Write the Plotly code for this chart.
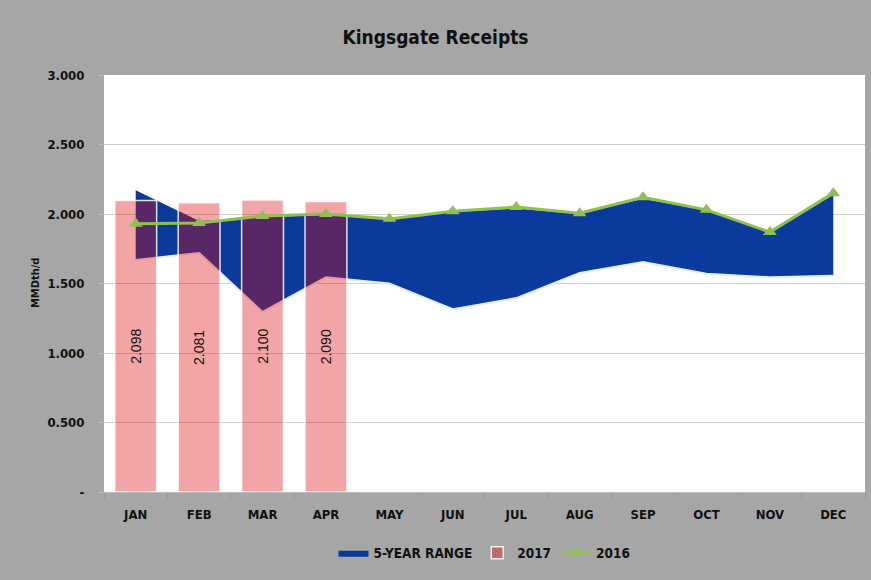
import plotly.graph_objects as go

months = ["JAN", "FEB", "MAR", "APR", "MAY", "JUN", "JUL", "AUG", "SEP", "OCT", "NOV", "DEC"]
range_low = [1.67, 1.72, 1.295, 1.545, 1.50, 1.315, 1.395, 1.575, 1.655, 1.57, 1.545, 1.555]
range_high = [2.17, 1.95, 1.975, 1.995, 1.96, 2.015, 2.04, 2.0, 2.11, 2.025, 1.865, 2.14]
months_2017 = ["JAN", "FEB", "MAR", "APR"]
vals_2017 = [2.098, 2.081, 2.100, 2.090]
vals_2016 = [1.93, 1.935, 1.985, 2.00, 1.965, 2.02, 2.05, 2.005, 2.12, 2.03, 1.87, 2.15]

ytick_vals = [0, 0.5, 1.0, 1.5, 2.0, 2.5, 3.0]
ytick_text = ["-", "0.500", "1.000", "1.500", "2.000", "2.500", "3.000"]

COND = "DejaVu Sans Condensed, Liberation Sans, sans-serif"
BLUE = "#0A3A9B"
GREEN = "#92C050"

fig = go.Figure()

# 5-year range area (base subplot)
fig.add_trace(go.Scatter(
    x=months, y=range_low, mode="lines",
    line=dict(color="#E4ECF8", width=2),
    showlegend=False, hoverinfo="skip",
))
fig.add_trace(go.Scatter(
    x=months, y=range_high, mode="lines",
    line=dict(color=BLUE, width=0),
    fill="tonexty", fillcolor=BLUE,
    name="5-YEAR RANGE",
))

# 2017 bars (overlay subplot, drawn above the area)
fig.add_trace(go.Bar(
    x=months_2017, y=vals_2017, name="2017",
    xaxis="x2", yaxis="y2",
    width=0.66,
    marker=dict(color="rgba(222,12,12,0.37)", line=dict(color="rgba(255,255,255,0.85)", width=1.5)),
    text=[f"{v:.3f}" for v in vals_2017],
    textposition="inside", insidetextanchor="middle", textangle=-90,
    textfont=dict(family="Liberation Sans, Arial, sans-serif", size=14, color="#111111"),
))

# 2016 line
fig.add_trace(go.Scatter(
    x=months, y=vals_2016, name="2016",
    xaxis="x2", yaxis="y2",
    mode="lines+markers",
    line=dict(color=GREEN, width=3),
    marker=dict(symbol="triangle-up", size=12, color=GREEN),
))

fig.update_layout(
    width=871, height=580,
    paper_bgcolor="#A6A6A6", plot_bgcolor="white",
    margin=dict(l=104, r=6, t=75, b=88),
    title=dict(text="Kingsgate Receipts", x=0.5, xanchor="center", y=0.935, yanchor="middle",
               font=dict(family=COND, size=19, color="#111111", weight="bold")),
    xaxis=dict(type="category", categoryorder="array", categoryarray=months,
               range=[-0.5, 11.5], showgrid=False,
               showline=True, linecolor="#BFBFBF", linewidth=1,
               ticks="outside", tickson="boundaries", ticklen=6, tickcolor="#999999",
               ticklabelstandoff=10,
               tickfont=dict(family=COND, size=13, color="#111111", weight="bold")),
    yaxis=dict(range=[0, 3], tickvals=ytick_vals, ticktext=ytick_text,
               showgrid=True, gridcolor="#CFCFCF", gridwidth=1, zeroline=False,
               ticks="outside", ticklen=4, tickcolor="#BFBFBF",
               ticklabelstandoff=12,
               tickfont=dict(family=COND, size=13, color="#111111", weight="bold")),
    xaxis2=dict(type="category", categoryorder="array", categoryarray=months,
                range=[-0.5, 11.5], overlaying="x", visible=False),
    yaxis2=dict(range=[0, 3], overlaying="y", visible=False),
    barmode="overlay",
    legend=dict(orientation="h", x=0.5, xanchor="center", y=-0.146, yanchor="middle",
                bgcolor="rgba(0,0,0,0)",
                font=dict(family=COND, size=13.5, color="#111111", weight="bold"),
                itemwidth=30, traceorder="normal"),
    annotations=[dict(text="MMDth/d", xref="paper", yref="paper",
                      x=-0.09, y=0.5, textangle=-90, showarrow=False,
                      xanchor="center", yanchor="middle",
                      font=dict(family=COND, size=11, color="#111111", weight="bold"))],
)

fig.write_html("out.html", config={"displayModeBar": False},
               post_script="document.body.style.margin='0';")
